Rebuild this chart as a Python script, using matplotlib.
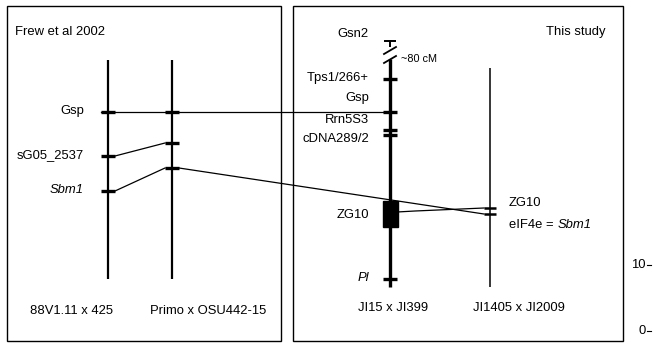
import matplotlib
matplotlib.use("Agg")
import matplotlib.pyplot as plt
from matplotlib.patches import Rectangle

plt.rcParams["font.family"] = ["Liberation Sans", "DejaVu Sans"]

# --- data: positions on the page (x = map column, y = marker position) ---
W, H = 654, 343

# Frew et al 2002 panel
frew_maps = ["88V1.11 x 425", "Primo x OSU442-15"]
frew_x = [108, 172]
frew_span = (60, 279)
frew_markers = ["Gsp", "sG05_2537", "Sbm1"]
frew_y_88V = [112, 156, 191]
frew_y_primo = [112, 143, 168]

# This study panel
study_maps = ["JI15 x JI399", "JI1405 x JI2009"]
study_x = [390, 490]
ji15_markers = ["Gsn2", "Tps1/266+", "Gsp", "Rrn5S3", "cDNA289/2", "ZG10", "Pl"]
ji15_label_y = [34, 78, 98, 120, 139, 215, 278]
ji15_tick_y = [41, 79, 112, 130, 135, None, 279]
ji15_span = (59, 287)
zg10_block = (201, 227)
ji1405_span = (68, 287)
ji1405_tick_y = [208, 214]

# stray axis ticks at the right edge
edge_ticks = ["10", "0"]
edge_tick_y = [265, 331]


fig = plt.figure(figsize=(W / 100, H / 100), dpi=100)
ax = fig.add_axes([0, 0, 1, 1])
ax.set_xlim(0, W)
ax.set_ylim(H, 0)
ax.axis("off")

k = "black"
fs = 9.4

# panel frames
ax.add_patch(Rectangle((7, 6), 274, 335, fill=False, lw=1.0, ec=k))
ax.add_patch(Rectangle((293, 6), 330, 335, fill=False, lw=1.0, ec=k))

ax.text(15, 32, "Frew et al 2002", fontsize=fs, va="center", ha="left")
ax.text(605, 32, "This study", fontsize=fs, va="center", ha="right")

tw = 7  # half tick width

# --- Frew maps ---
for x in frew_x:
    ax.plot([x, x], frew_span, color=k, lw=1.6, solid_capstyle="butt")
for x, ys in zip(frew_x, [frew_y_88V, frew_y_primo]):
    for y in ys:
        ax.plot([x - tw, x + tw], [y, y], color=k, lw=2.4, solid_capstyle="butt")

for name, y in zip(frew_markers, frew_y_88V):
    style = "italic" if name == "Sbm1" else "normal"
    ax.text(84, y - 1, name, fontsize=fs, ha="right", va="center", style=style)

# connecting lines between the two Frew maps
for y0, y1 in zip(frew_y_88V[1:], frew_y_primo[1:]):
    ax.plot([frew_x[0] + tw, frew_x[1] - tw], [y0, y1], color=k, lw=0.9)

for name, x in zip(frew_maps, frew_x):
    ax.text(x - 36 if x == frew_x[0] else x + 36, 311, name,
            fontsize=fs, ha="center", va="center")

# --- JI15 x JI399 map ---
xs = study_x[0]
# Gsn2 "T" and the break
ax.plot([xs - 6, xs + 6], [ji15_tick_y[0], ji15_tick_y[0]], color=k, lw=1.4,
        solid_capstyle="butt")
ax.plot([xs, xs], [ji15_tick_y[0], 47], color=k, lw=1.4, solid_capstyle="butt")
ax.plot([xs - 6, xs + 6], [54, 47], color=k, lw=1.3)
ax.plot([xs - 6, xs + 6], [63, 56], color=k, lw=1.3)
ax.plot([xs, xs], ji15_span, color=k, lw=2.4, solid_capstyle="butt")
ax.text(401, 59, "~80 cM", fontsize=7.8, ha="left", va="center")

for y in ji15_tick_y[1:]:
    if y is not None:
        ax.plot([xs - tw, xs + tw], [y, y], color=k, lw=2.4,
                solid_capstyle="butt")

# long Gsp line across panels
ax.plot([frew_x[0] - tw, xs], [frew_y_88V[0], ji15_tick_y[2]], color=k, lw=0.9)

# Sbm1 (Primo) -> eIF4e line, passes behind ZG10 block
ax.plot([frew_x[1] + tw, study_x[1] - 6], [frew_y_primo[2], ji1405_tick_y[1]],
        color=k, lw=0.9, zorder=1)
# ZG10 -> ZG10 line
ax.plot([xs + 7, 415, study_x[1] - 6], [212, 211, ji1405_tick_y[0]],
        color=k, lw=0.9, zorder=1)

ax.add_patch(Rectangle((xs - 7.5, zg10_block[0]), 15, zg10_block[1] - zg10_block[0],
                       color=k, zorder=3))

for name, y in zip(ji15_markers, ji15_label_y):
    if name == "Pl":
        ax.text(358, y, name, fontsize=fs, ha="left", va="center", style="italic")
    else:
        ax.text(369, y, name, fontsize=fs, ha="right", va="center")

# --- JI1405 x JI2009 map ---
x2 = study_x[1]
ax.plot([x2, x2], ji1405_span, color=k, lw=1.1, solid_capstyle="butt")
for y in ji1405_tick_y:
    ax.plot([x2 - 6, x2 + 6], [y, y], color=k, lw=1.8, solid_capstyle="butt")
ax.text(509, 203, "ZG10", fontsize=fs, ha="left", va="center")
t = ax.text(509, 225, "eIF4e = ", fontsize=fs, ha="left", va="center")
fig.canvas.draw()
x_end = t.get_window_extent(fig.canvas.get_renderer()).x1
ax.text(x_end, 225, "Sbm1", fontsize=fs, ha="left", va="center", style="italic")

for name, x in zip(study_maps, study_x):
    ax.text(x + 3 if x == xs else x + 29, 308, name, fontsize=fs,
            ha="center", va="center")

# stray tick labels on the right
for lab, y in zip(edge_ticks, edge_tick_y):
    ax.text(646, y, lab, fontsize=fs, ha="right", va="center")
    ax.plot([647, 651], [y, y], color=k, lw=0.8)

fig.savefig("out.png", dpi=100, facecolor="white")
